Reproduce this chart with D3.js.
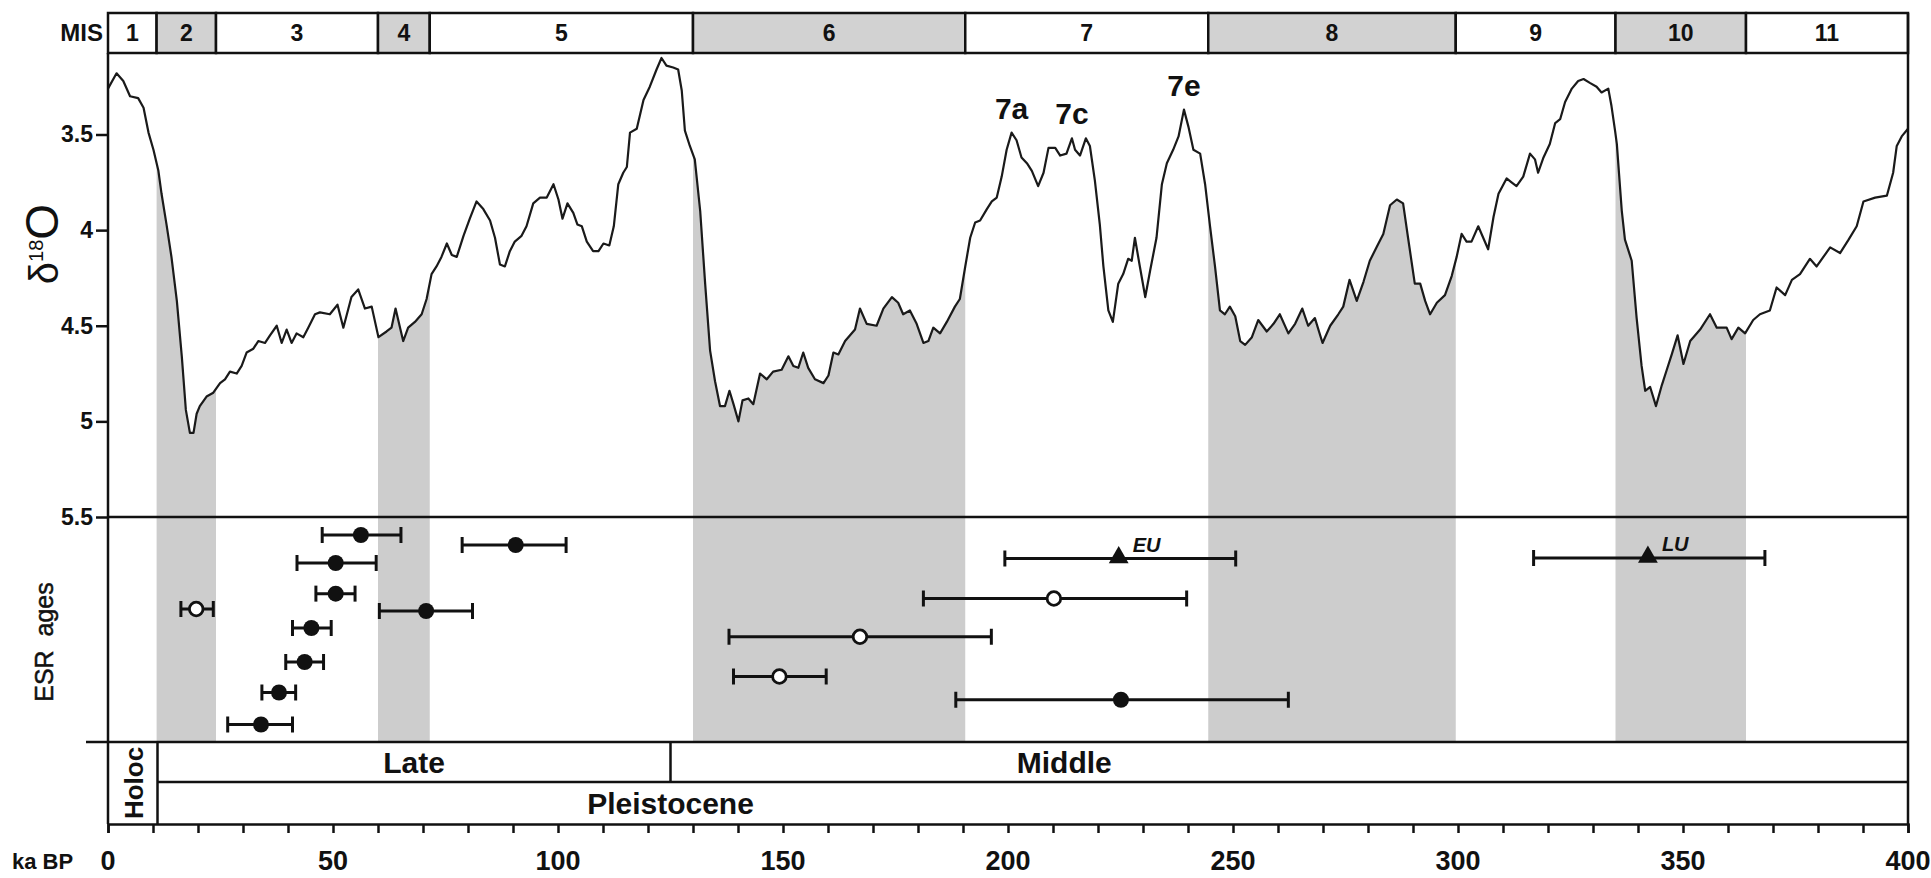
<!DOCTYPE html>
<html>
<head>
<meta charset="utf-8">
<script src="https://cdn.jsdelivr.net/npm/d3@7"></script>
<style>
  html, body { margin: 0; padding: 0; background: #fff; }
  svg { display: block; font-family: "Liberation Sans", Arial, Helvetica, sans-serif; }
</style>
</head>
<body>
<svg id="chart" width="1931" height="878"></svg>
<script>
// Benthic δ18O stack: [age ka BP, δ18O ‰]
const isoRecord = [
  [0,3.26],[1.9,3.18],[3.4,3.22],[4.9,3.30],[6.7,3.31],[7.9,3.36],[9.0,3.49],[10.1,3.58],[11.2,3.69],[11.9,3.81],
  [13.0,3.97],[14.1,4.14],[15.3,4.37],[16.4,4.66],[17.3,4.94],[18.2,5.06],[19.0,5.06],[19.7,4.96],[20.4,4.92],[21.9,4.87],
  [23.4,4.85],[24.9,4.80],[26.0,4.78],[27.1,4.74],[28.6,4.75],[29.7,4.71],[30.8,4.64],[32.3,4.62],[33.4,4.58],[34.9,4.59],
  [36.0,4.55],[37.5,4.50],[38.6,4.59],[39.7,4.52],[40.8,4.59],[41.9,4.54],[43.4,4.56],[44.5,4.51],[46.0,4.44],[47.1,4.43],
  [49.3,4.44],[51.0,4.39],[52.3,4.51],[54.1,4.35],[55.6,4.31],[57.1,4.41],[58.6,4.40],[60.1,4.56],[61.9,4.53],[63.0,4.51],
  [63.9,4.41],[64.9,4.51],[65.6,4.58],[66.7,4.51],[68.2,4.48],[69.7,4.44],[70.8,4.36],[71.9,4.23],[73.0,4.19],[74.1,4.14],
  [75.3,4.07],[76.4,4.13],[77.5,4.14],[79.0,4.03],[80.4,3.94],[81.9,3.85],[83.4,3.89],[84.9,3.95],[86.0,4.04],[87.1,4.18],
  [88.2,4.19],[89.3,4.11],[90.4,4.06],[91.9,4.03],[93.0,3.98],[94.5,3.86],[96.0,3.83],[97.5,3.83],[99.0,3.76],[100.1,3.84],
  [101.0,3.94],[102.1,3.86],[103.4,3.91],[104.3,3.97],[105.3,3.98],[106.4,4.06],[107.8,4.11],[109.0,4.11],[110.1,4.07],[111.4,4.08],
  [112.4,3.98],[113.4,3.76],[114.5,3.70],[115.3,3.67],[116.0,3.49],[117.5,3.47],[119.0,3.32],[120.4,3.25],[121.9,3.16],[123.0,3.10],
  [124.1,3.14],[125.6,3.15],[126.7,3.16],[127.5,3.27],[128.2,3.48],[129.3,3.56],[130.4,3.63],[131.6,3.90],[132.7,4.28],[133.8,4.63],
  [134.9,4.79],[136.0,4.92],[137.1,4.92],[138.1,4.84],[139.0,4.91],[140.1,5.00],[141.0,4.89],[142.3,4.88],[143.4,4.91],[144.9,4.75],
  [146.4,4.78],[147.8,4.74],[149.7,4.73],[151.2,4.66],[152.3,4.71],[153.4,4.72],[154.5,4.64],[155.6,4.72],[157.1,4.78],[159.0,4.80],
  [160.1,4.76],[161.2,4.64],[162.3,4.65],[163.8,4.58],[164.9,4.55],[166.0,4.52],[167.1,4.41],[168.6,4.49],[170.8,4.50],[172.3,4.41],
  [174.2,4.35],[175.6,4.38],[176.7,4.44],[178.2,4.42],[179.7,4.49],[181.2,4.59],[182.3,4.58],[183.4,4.51],[184.9,4.54],[186.4,4.48],
  [188.2,4.40],[189.3,4.36],[190.5,4.19],[191.6,4.04],[192.7,3.96],[193.8,3.95],[195.3,3.89],[196.4,3.85],[197.5,3.83],[198.6,3.72],
  [199.7,3.58],[200.8,3.49],[201.9,3.53],[203.0,3.62],[204.2,3.65],[205.3,3.69],[206.7,3.77],[207.9,3.70],[209.0,3.57],[210.5,3.57],
  [211.6,3.61],[213.0,3.60],[214.2,3.52],[214.9,3.58],[216.0,3.61],[217.3,3.52],[218.2,3.56],[219.3,3.74],[220.4,3.97],[221.2,4.19],
  [222.3,4.42],[223.3,4.48],[224.5,4.28],[225.6,4.23],[226.7,4.15],[227.5,4.16],[228.2,4.04],[229.3,4.19],[230.5,4.35],[231.6,4.21],
  [233.0,4.04],[234.2,3.76],[235.3,3.65],[236.7,3.58],[237.9,3.51],[239.1,3.37],[240.1,3.46],[241.2,3.58],[242.7,3.60],[243.8,3.76],
  [244.9,3.98],[246.0,4.19],[247.1,4.42],[248.2,4.44],[249.3,4.40],[250.5,4.45],[251.6,4.58],[252.7,4.60],[254.2,4.56],[255.6,4.47],
  [257.5,4.53],[259.0,4.49],[260.4,4.44],[262.3,4.54],[263.8,4.49],[265.4,4.41],[266.7,4.50],[268.2,4.46],[269.9,4.59],[271.6,4.50],
  [273.4,4.44],[274.5,4.40],[275.9,4.26],[277.5,4.37],[279.0,4.27],[280.4,4.16],[281.9,4.09],[283.4,4.02],[284.9,3.87],[286.4,3.84],
  [287.8,3.86],[288.9,4.04],[290.4,4.28],[291.6,4.28],[292.7,4.37],[293.8,4.44],[295.3,4.38],[297.1,4.34],[298.6,4.24],[299.7,4.14],
  [300.8,4.02],[301.9,4.06],[303.0,4.06],[304.5,3.98],[305.6,4.04],[306.7,4.10],[307.9,3.93],[309.0,3.81],[310.8,3.73],[311.9,3.75],
  [313.0,3.77],[314.5,3.72],[316.0,3.60],[317.1,3.63],[317.8,3.70],[319.0,3.62],[320.4,3.55],[321.6,3.44],[322.7,3.42],[323.8,3.33],
  [325.3,3.26],[326.7,3.22],[327.9,3.21],[329.3,3.23],[330.8,3.25],[331.9,3.28],[333.4,3.26],[334.1,3.35],[334.9,3.48],[335.3,3.55],
  [336.4,3.90],[337.1,4.05],[338.6,4.16],[339.7,4.46],[340.8,4.71],[341.6,4.84],[342.7,4.82],[344.0,4.92],[345.3,4.81],[346.4,4.73],
  [347.5,4.65],[348.8,4.55],[350.1,4.70],[351.6,4.58],[353.8,4.52],[356.0,4.44],[357.5,4.51],[359.7,4.51],[360.8,4.57],[362.3,4.51],
  [363.8,4.54],[365.6,4.47],[367.1,4.44],[369.3,4.42],[370.8,4.30],[372.7,4.34],[374.2,4.26],[376.0,4.23],[378.2,4.15],[379.7,4.19],
  [382.7,4.09],[384.9,4.12],[386.8,4.05],[388.6,3.98],[390.1,3.85],[392.7,3.83],[395.3,3.82],[396.7,3.70],[397.5,3.56],[398.6,3.51],
  [400,3.47]
];

// Marine isotope stages: boundaries (ka) and names
const misBounds = [0, 10.8, 24, 60, 71.5, 130, 190.5, 244.5, 299.5, 335, 364, 400];
const misNames  = ["1","2","3","4","5","6","7","8","9","10","11"];

// MIS 7 substage peaks
const substageNames = ["7a", "7c", "7e"];
const substageAges  = [200.8, 214.2, 239.1];

// ESR ages: central age, error range (ka), sample level in the stack, marker type
const esrAge   = [56.2, 90.6, 50.6, 50.6, 19.6, 70.7, 45.2, 43.7, 38.0, 34.0, 224.6, 210.2, 167.1, 149.2, 225.1, 342.2];
const esrMin   = [47.6, 78.7, 42.0, 46.2, 16.2, 60.3, 41.0, 39.5, 34.2, 26.6, 199.3, 181.2, 138.0, 139.0, 188.4, 316.8];
const esrMax   = [65.1,101.8, 59.6, 54.9, 23.4, 81.0, 49.6, 47.9, 41.7, 41.0, 250.6, 239.7, 196.3, 159.6, 262.3, 368.2];
const esrLevel = [1.44, 2.24, 3.68, 6.13, 7.36, 7.52, 8.88, 11.6, 14.04, 16.6, 3.32, 6.52, 9.58, 12.76, 14.62, 3.28];
const esrType  = ["filled","filled","filled","filled","open","filled","filled","filled","filled","filled",
                  "EU","open","open","open","filled","LU"];

// Chronostratigraphy (ka)
const holoceneEnd = 11;
const lateMiddleBoundary = 125;
const epochLabelAges = [68, 212.5];   // "Late", "Middle"
const epochLabels = ["Late", "Middle"];

// Axis ticks
const ageTicks = d3.range(0, 401, 10);
const ageLabels = [0, 50, 100, 150, 200, 250, 300, 350, 400];
const isoTicks = [3.5, 4, 4.5, 5, 5.5];

// ---------------------------------------------------------------
const svg = d3.select("#chart");
const INK = "#111";

const x = d3.scaleLinear().domain([0, 400]).range([108, 1908]);
const y = d3.scaleLinear().domain([3.5, 5.5]).range([134.5, 517]);
const esrY = d3.scaleLinear().domain([0, 18]).range([517, 742]);

const misTop = 13, plotTop = 53, esrBottom = 742, epochMid = 782, axisY = 824;

// shaded glacial stages: area under the curve down to the ESR panel bottom
const defs = svg.append("defs");
const clip = defs.append("clipPath").attr("id", "glacials");
const evenStages = d3.range(1, misNames.length, 2);
evenStages.forEach(i => {
  clip.append("rect")
    .attr("x", x(misBounds[i])).attr("width", x(misBounds[i + 1]) - x(misBounds[i]))
    .attr("y", plotTop).attr("height", esrBottom - plotTop);
});
const area = d3.area()
  .x(d => x(d[0]))
  .y0(esrBottom)
  .y1(d => y(d[1]));
svg.append("path")
  .datum(isoRecord)
  .attr("d", area)
  .attr("fill", "#cdcdcd")
  .attr("clip-path", "url(#glacials)");

// MIS bar
const misG = svg.append("g");
misG.selectAll("rect").data(misNames).join("rect")
  .attr("x", (d, i) => x(misBounds[i]))
  .attr("width", (d, i) => x(misBounds[i + 1]) - x(misBounds[i]))
  .attr("y", misTop).attr("height", plotTop - misTop)
  .attr("fill", (d, i) => i % 2 === 1 ? "#d2d2d2" : "#fff")
  .attr("stroke", INK).attr("stroke-width", 2.5);
misG.selectAll("text").data(misNames).join("text")
  .attr("x", (d, i) => x((misBounds[i] + misBounds[i + 1]) / 2))
  .attr("y", (misTop + plotTop) / 2 + 8)
  .attr("text-anchor", "middle")
  .attr("font-size", 23).attr("font-weight", "bold").attr("fill", INK)
  .text(d => d);
svg.append("text")
  .attr("x", 103).attr("y", (misTop + plotTop) / 2 + 8)
  .attr("text-anchor", "end")
  .attr("font-size", 24).attr("font-weight", "bold").attr("fill", INK)
  .text("MIS");

// δ18O curve
const line = d3.line().x(d => x(d[0])).y(d => y(d[1]));
svg.append("path")
  .datum(isoRecord)
  .attr("d", line)
  .attr("fill", "none")
  .attr("stroke", "#1a1a1a")
  .attr("stroke-width", 2.2)
  .attr("stroke-linejoin", "round");

// substage labels above their peaks
const bis = d3.bisector(d => d[0]).center;
svg.append("g").selectAll("text").data(substageNames).join("text")
  .attr("x", (d, i) => x(substageAges[i]))
  .attr("y", (d, i) => y(isoRecord[bis(isoRecord, substageAges[i])][1]) - 14)
  .attr("text-anchor", "middle")
  .attr("font-size", 30).attr("font-weight", "bold").attr("fill", INK)
  .text(d => d);

// frame lines
const frame = svg.append("g").attr("stroke", INK).attr("stroke-width", 2.5).attr("fill", "none");
frame.append("line").attr("x1", x(0)).attr("x2", x(0)).attr("y1", plotTop).attr("y2", axisY);
frame.append("line").attr("x1", x(400)).attr("x2", x(400)).attr("y1", misTop).attr("y2", axisY);
frame.append("line").attr("x1", x(0)).attr("x2", x(400)).attr("y1", y(5.5)).attr("y2", y(5.5));
frame.append("line").attr("x1", 86).attr("x2", x(400)).attr("y1", esrBottom).attr("y2", esrBottom);
frame.append("line").attr("x1", x(holoceneEnd)).attr("x2", x(400)).attr("y1", epochMid).attr("y2", epochMid);
frame.append("line").attr("x1", x(holoceneEnd)).attr("x2", x(holoceneEnd)).attr("y1", esrBottom).attr("y2", axisY);
frame.append("line").attr("x1", x(lateMiddleBoundary)).attr("x2", x(lateMiddleBoundary)).attr("y1", esrBottom).attr("y2", epochMid);

// y axis
const yAxis = d3.axisLeft(y).tickValues(isoTicks).tickSize(12).tickPadding(3)
  .tickFormat(d => d3.format("")(d));
const yG = svg.append("g").attr("transform", `translate(${x(0)},0)`).call(yAxis);
yG.select(".domain").remove();
yG.selectAll(".tick line").attr("stroke", INK).attr("stroke-width", 2.5);
yG.selectAll(".tick text").attr("font-size", 23).attr("font-weight", "bold")
  .attr("fill", INK).attr("font-family", "Liberation Sans, Arial, sans-serif");

// x axis
const xAxis = d3.axisBottom(x).tickValues(ageTicks).tickSize(9).tickFormat("");
const xG = svg.append("g").attr("transform", `translate(0,${axisY})`).call(xAxis);
xG.select(".domain").attr("stroke", INK).attr("stroke-width", 2.5);
xG.selectAll(".tick line").attr("stroke", INK).attr("stroke-width", 2.5);
svg.append("g").selectAll("text").data(ageLabels).join("text")
  .attr("x", d => x(d)).attr("y", 870)
  .attr("text-anchor", "middle")
  .attr("font-size", 27).attr("font-weight", "bold").attr("fill", INK)
  .text(d => d);
svg.append("text")
  .attr("x", 12).attr("y", 869)
  .attr("font-size", 22).attr("font-weight", "bold").attr("fill", INK)
  .text("ka BP");

// y title δ18O
const yt = svg.append("text")
  .attr("transform", "translate(58,244) rotate(-90)")
  .attr("text-anchor", "middle").attr("fill", INK);
yt.append("tspan").attr("font-size", 40).text("δ");
yt.append("tspan").attr("font-size", 20).attr("dy", -15).text("18");
yt.append("tspan").attr("font-size", 46).attr("dy", 15).text("O");

svg.append("text")
  .attr("transform", "translate(53,642) rotate(-90)")
  .attr("text-anchor", "middle").attr("fill", INK)
  .attr("font-size", 25)
  .attr("stroke", INK).attr("stroke-width", 0.5)
  .style("white-space", "pre")
  .text("ESR  ages");

// epochs
svg.append("text")
  .attr("transform", `translate(${(x(0) + x(holoceneEnd)) / 2 + 10},${(esrBottom + axisY) / 2}) rotate(-90)`)
  .attr("text-anchor", "middle").attr("fill", INK)
  .attr("font-size", 26).attr("font-weight", "bold")
  .text("Holoc");
svg.append("g").selectAll("text").data(epochLabels).join("text")
  .attr("x", (d, i) => x(epochLabelAges[i]))
  .attr("y", (esrBottom + epochMid) / 2 + 11)
  .attr("text-anchor", "middle")
  .attr("font-size", 30).attr("font-weight", "bold").attr("fill", INK)
  .text(d => d);
svg.append("text")
  .attr("x", x(lateMiddleBoundary)).attr("y", (epochMid + axisY) / 2 + 11)
  .attr("text-anchor", "middle")
  .attr("font-size", 30).attr("font-weight", "bold").attr("fill", INK)
  .text("Pleistocene");

// ESR ages with error bars
const esr = d3.range(esrAge.length).map(i => ({
  age: esrAge[i], lo: esrMin[i], hi: esrMax[i], level: esrLevel[i], type: esrType[i]
}));
const eg = svg.append("g");
const bars = eg.selectAll("g.bar").data(esr).join("g").attr("class", "bar")
  .attr("stroke", INK).attr("stroke-width", 3);
bars.append("line")
  .attr("x1", d => x(d.lo)).attr("x2", d => x(d.hi))
  .attr("y1", d => esrY(d.level)).attr("y2", d => esrY(d.level));
bars.append("line")
  .attr("x1", d => x(d.lo)).attr("x2", d => x(d.lo))
  .attr("y1", d => esrY(d.level) - 8).attr("y2", d => esrY(d.level) + 8);
bars.append("line")
  .attr("x1", d => x(d.hi)).attr("x2", d => x(d.hi))
  .attr("y1", d => esrY(d.level) - 8).attr("y2", d => esrY(d.level) + 8);

const circ = esr.filter(d => d.type === "filled" || d.type === "open");
eg.selectAll("circle").data(circ).join("circle")
  .attr("cx", d => x(d.age)).attr("cy", d => esrY(d.level))
  .attr("r", d => d.type === "filled" ? 8 : 6.8)
  .attr("fill", d => d.type === "filled" ? INK : "#fff")
  .attr("stroke", INK).attr("stroke-width", d => d.type === "open" ? 2.8 : 0);

const tri = esr.filter(d => d.type === "EU" || d.type === "LU");
eg.selectAll("path.tri").data(tri).join("path").attr("class", "tri")
  .attr("d", d3.symbol(d3.symbolTriangle, 170))
  .attr("transform", d => `translate(${x(d.age)},${esrY(d.level) - 1})`)
  .attr("fill", INK);
eg.selectAll("text").data(tri).join("text")
  .attr("x", d => x(d.age) + 14).attr("y", d => esrY(d.level) - 7)
  .attr("font-size", 20).attr("font-weight", "bold").attr("font-style", "italic").attr("fill", INK)
  .text(d => d.type);
</script>
</body>
</html>
